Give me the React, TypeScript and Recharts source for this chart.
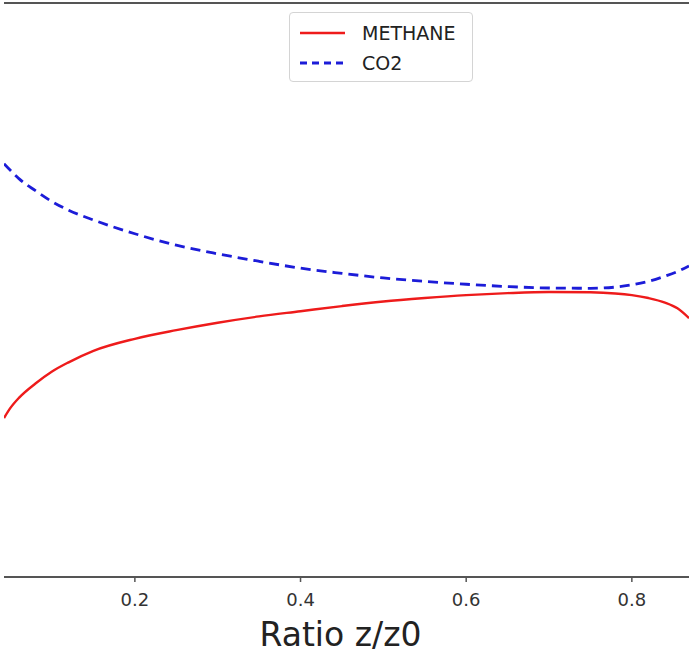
import React from "react";
import { LineChart, Line, XAxis, YAxis, ReferenceLine } from "recharts";

// Ratio z/z0 sample positions
const ratio = [0.042, 0.05, 0.06, 0.08, 0.1, 0.12, 0.15, 0.2, 0.25, 0.3, 0.35, 0.4, 0.45, 0.5, 0.55, 0.6, 0.65, 0.7, 0.75, 0.78, 0.8, 0.82, 0.84, 0.855, 0.869];
// (arbitrary units, 0 = bottom axis, 100 = top frame)
const methane = [27.7, 29.5, 31.2, 33.7, 35.8, 37.4, 39.4, 41.5, 43.0, 44.3, 45.4, 46.3, 47.2, 48.0, 48.6, 49.1, 49.45, 49.65, 49.6, 49.4, 49.1, 48.6, 47.8, 46.8, 45.1];
const co2 = [72.0, 70.8, 69.4, 67.3, 65.4, 63.9, 62.2, 59.8, 57.8, 56.3, 55.0, 53.8, 52.9, 52.1, 51.5, 51.0, 50.6, 50.35, 50.3, 50.5, 50.9, 51.5, 52.4, 53.2, 54.2];
const xTicks = [0.2, 0.4, 0.6, 0.8];
const xLabel = "Ratio z/z0";

const series = [
  { key: "METHANE", values: methane, color: "#ee1b1b", width: 2.4, dash: undefined as string | undefined, legendDash: undefined as string | undefined },
  { key: "CO2", values: co2, color: "#1c1cd8", width: 2.8, dash: "10 6", legendDash: "7 5" },
];

const data = ratio.map((r, i) => {
  const row: Record<string, number> = { r };
  series.forEach((s) => (row[s.key] = s.values[i]));
  return row;
});

const FONT = "'DejaVu Sans', sans-serif";

function LegendBox() {
  return (
    <div
      style={{
        position: "absolute",
        left: 289,
        top: 12,
        width: 184,
        height: 70,
        boxSizing: "border-box",
        border: "1px solid #d4d4d4",
        borderRadius: 4,
        background: "#fff",
        fontFamily: FONT,
      }}
    >
      {series.map((s, i) => (
        <div key={s.key} style={{ position: "absolute", left: 0, top: 8 + i * 30, height: 24, width: 182 }}>
          <svg width={60} height={24} style={{ position: "absolute", left: 10, top: 0 }}>
            <line x1={0} x2={45} y1={12} y2={12} stroke={s.color} strokeWidth={s.width} strokeDasharray={s.legendDash} />
          </svg>
          <span style={{ position: "absolute", left: 72, top: 0, lineHeight: "24px", fontSize: 19, color: "#222" }}>{s.key}</span>
        </div>
      ))}
    </div>
  );
}

export default function App() {
  return (
    <div style={{ position: "fixed", left: 0, top: 0, width: 689, height: 656, overflow: "hidden", background: "#fff" }}>
      <LineChart width={689} height={656} data={data} margin={{ top: 3, right: 0, bottom: 0, left: 4 }}>
        <XAxis
          dataKey="r"
          type="number"
          domain={[0.042, 0.869]}
          allowDataOverflow
          ticks={xTicks}
          tickFormatter={(v: number) => v.toFixed(1)}
          height={79}
          axisLine={{ stroke: "#555", strokeWidth: 2 }}
          tickLine={{ stroke: "#555", strokeWidth: 1.5 }}
          tickSize={5}
          tickMargin={11}
          tick={{ fill: "#333", fontSize: 18, fontFamily: FONT }}
          label={(p: any) => {
            const vb = p.viewBox;
            return (
              <text x={vb.x + vb.width / 2 - 6} y={646} textAnchor="middle" fontSize={33} fontFamily={FONT} fill="#222">
                {xLabel}
              </text>
            );
          }}
        />
        <YAxis hide domain={[0, 100]} allowDataOverflow />
        <ReferenceLine y={100} stroke="#555" strokeWidth={2} />
        {series.map((s) => (
          <Line
            key={s.key}
            dataKey={s.key}
            name={s.key}
            type="monotone"
            stroke={s.color}
            strokeWidth={s.width}
            strokeDasharray={s.dash}
            dot={false}
            activeDot={false}
            isAnimationActive={false}
          />
        ))}
      </LineChart>
      <LegendBox />
    </div>
  );
}
